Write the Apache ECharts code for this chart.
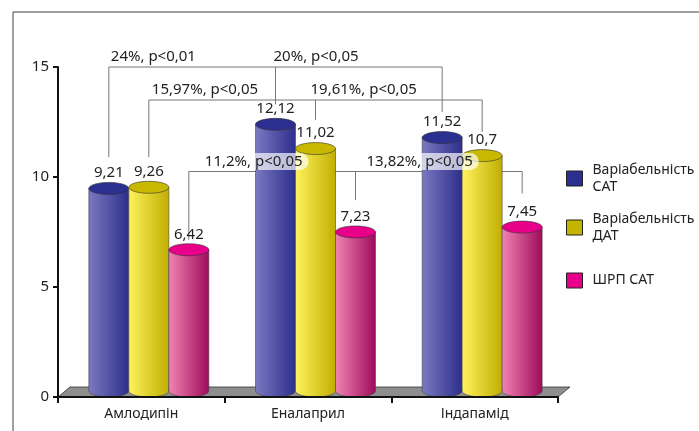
<!DOCTYPE html>
<html>
<head>
<meta charset="utf-8">
<script src="https://cdn.jsdelivr.net/npm/echarts@6/dist/echarts.min.js"></script>
<style>
  html, body { margin: 0; background: #fff; }
  #chart { width: 699px; height: 431px; }
</style>
</head>
<body>
<div id="chart"></div>
<script>
// --- data ---
const categories = ['Амлодипін', 'Еналаприл', 'Індапамід']
const seriesNames = ['Варіабельність\nСАТ', 'Варіабельність\nДАТ', 'ШРП САТ']
const sadVariability = [9.21, 12.12, 11.52]
const dadVariability = [9.26, 11.02, 10.7]
const shrpSad = [6.42, 7.23, 7.45]
const yTicks = [0, 5, 10, 15]

// significance brackets: level, drops [category, series, end value], texts
const bracketLevels = [15, 13.5, 10.25]
const bracketDrops = [
  [[0, 0, 10.9], [1, 0, 13.3], [2, 0, 12.95]],
  [[0, 1, 10.9], [1, 1, 12.6], [2, 1, 12.05]],
  [[0, 2, 7.15], [1, 2, 8.95], [2, 2, 9.25]]
]
const bracketTexts = [
  ['24%, p<0,01', '20%, p<0,05'],
  ['15,97%, p<0,05', '19,61%, p<0,05'],
  ['11,2%, p<0,05', '13,82%, p<0,05']
]

// --- look ---
const FONT = '"Noto Sans", sans-serif'
const BAR_RATIO = 0.24
const GROUP_SHIFT = 0.045
const RY = 6
const LABEL_DX = [[2, -2], [3, -5], [16, 11]]
const palette = [
  { light: '#7b79c2', dark: '#2c2e8a', top: '#2b2f8f', legend: '#2b2f8f' },
  { light: '#fff35e', dark: '#c1ae00', top: '#c8b800', legend: '#c3b400' },
  { light: '#f184b3', dark: '#9e0a5a', top: '#e8008a', legend: '#e8008a' }
]
const values = [sadVariability, dadVariability, shrpSad]

const fmt = v => String(v).replace('.', ',')

function barCenter (api, cat, s) {
  const band = api.size([1, 0])[0]
  const c = api.coord([cat, 0])[0]
  return c + (s - 1) * band * BAR_RATIO + band * GROUP_SHIFT
}

function halfEllipse (cx, y, rx, ry) {
  const k = 0.5523
  return `C${cx - rx} ${y + k * ry} ${cx - k * rx} ${y + ry} ${cx} ${y + ry}` +
    `C${cx + k * rx} ${y + ry} ${cx + rx} ${y + k * ry} ${cx + rx} ${y}`
}

function cylinder (s) {
  return function (params, api) {
    const cat = api.value(0)
    const v = api.value(1)
    const band = api.size([1, 0])[0]
    const rx = band * BAR_RATIO / 2
    const cx = barCenter(api, cat, s)
    const yTop = api.coord([cat, v])[1] - RY
    const yBase = api.coord([cat, 0])[1] - RY
    const c = palette[s]
    const side = {
      type: 'linear', x: 0, y: 0, x2: 1, y2: 0,
      colorStops: [{ offset: 0, color: c.light }, { offset: 1, color: c.dark }]
    }
    return {
      type: 'group',
      children: [
        {
          type: 'path',
          shape: {
            pathData: `M${cx - rx} ${yTop}L${cx - rx} ${yBase}` + halfEllipse(cx, yBase, rx, RY) + `L${cx + rx} ${yTop}Z`
          },
          style: { fill: side, stroke: '#444', lineWidth: 0.6 }
        },
        {
          type: 'ellipse',
          shape: { cx: cx, cy: yTop, rx: rx, ry: RY },
          style: { fill: c.top, stroke: '#333', lineWidth: 0.6 }
        },
        {
          type: 'text',
          x: cx,
          y: yTop - RY - 2,
          style: {
            text: fmt(v), fill: '#222', font: '15px ' + FONT,
            align: 'center', verticalAlign: 'bottom', textAlign: 'center', textVerticalAlign: 'bottom'
          }
        }
      ]
    }
  }
}

function floor (params, api) {
  const g = params.coordSys
  const b = g.y + g.height
  return {
    type: 'polygon',
    shape: { points: [[g.x, b], [g.x + 12, b - 10], [g.x + g.width + 12, b - 10], [g.x + g.width, b]] },
    style: { fill: '#8e8e8e', stroke: '#333', lineWidth: 0.8 }
  }
}

function bracketLines (params, api) {
  const i = api.value(0)
  const ly = api.coord([0, bracketLevels[i]])[1]
  const drops = bracketDrops[i]
  const xs = drops.map(d => barCenter(api, d[0], d[1]))
  const children = [{
    type: 'line',
    shape: { x1: xs[0], y1: ly, x2: xs[xs.length - 1], y2: ly },
    style: { stroke: '#777', lineWidth: 1 }
  }]
  drops.forEach((d, j) => {
    children.push({
      type: 'line',
      shape: { x1: xs[j], y1: ly, x2: xs[j], y2: api.coord([0, d[2]])[1] },
      style: { stroke: '#777', lineWidth: 1 }
    })
  })
  return { type: 'group', children: children }
}

function bracketLabels (params, api) {
  const i = api.value(0)
  const ly = api.coord([0, bracketLevels[i]])[1]
  const drops = bracketDrops[i]
  return {
    type: 'group',
    children: bracketTexts[i].map((t, j) => ({
      type: 'text',
      x: barCenter(api, drops[j][0], drops[j][1]) + LABEL_DX[i][j],
      y: ly - 10,
      style: {
        text: t, fill: '#222', font: '15px ' + FONT,
        align: 'left', verticalAlign: 'middle', textAlign: 'left', textVerticalAlign: 'middle',
        backgroundColor: i === 2 ? 'rgba(255,255,255,0.68)' : 'transparent',
        borderRadius: 10,
        padding: i === 2 ? [1, 6, 1, 0] : 0
      }
    }))
  }
}

const chart = echarts.init(document.getElementById('chart'))

const series = [
  {
    type: 'custom', z: 1, silent: true,
    data: [[0, 0]],
    renderItem: floor
  },
  {
    type: 'custom', z: 2, silent: true,
    data: bracketLevels.map((l, i) => [i, l]),
    renderItem: bracketLines
  }
]
values.forEach((vals, s) => {
  series.push({
    type: 'custom',
    name: seriesNames[s],
    z: 3,
    itemStyle: { color: palette[s].legend },
    data: vals.map((v, i) => [i, v]),
    encode: { x: 0, y: 1 },
    renderItem: cylinder(s)
  })
})
series.push({
  type: 'custom', z: 4, silent: true,
  data: bracketLevels.map((l, i) => [i, l]),
  renderItem: bracketLabels
})

const legendTops = [153, 202, 272]

chart.setOption({
  animation: false,
  textStyle: { fontFamily: FONT },
  grid: { left: 58, right: 141, top: 67, bottom: 34 },
  legend: seriesNames.map((n, i) => ({
    data: [n],
    left: 566,
    top: legendTops[i],
    padding: 0,
    icon: 'rect',
    itemWidth: 16,
    itemHeight: 15,
    selectedMode: false,
    itemStyle: { borderColor: '#222', borderWidth: 1 },
    textStyle: {
      fontFamily: FONT, fontSize: 14, color: '#222', lineHeight: 17,
      padding: i < 2 ? [17, 0, 0, 5] : [0, 0, 0, 5]
    }
  })),
  xAxis: {
    type: 'category',
    data: categories,
    z: 5,
    axisLine: { lineStyle: { color: '#111', width: 2 } },
    axisTick: { show: true, length: 6, lineStyle: { color: '#111', width: 2 } },
    axisLabel: { color: '#222', fontSize: 14, margin: 10, fontFamily: FONT }
  },
  yAxis: {
    type: 'value',
    min: yTicks[0],
    max: yTicks[yTicks.length - 1],
    interval: yTicks[1] - yTicks[0],
    z: 5,
    axisLine: { show: true, lineStyle: { color: '#111', width: 2 } },
    axisTick: { show: true, length: 5, lineStyle: { color: '#111', width: 2 } },
    splitLine: { show: false },
    axisLabel: { color: '#222', fontSize: 15, margin: 9, fontFamily: FONT }
  },
  graphic: [
    { type: 'line', shape: { x1: 13, y1: 12, x2: 699, y2: 12 }, style: { stroke: '#808080', lineWidth: 1.5 } },
    { type: 'line', shape: { x1: 13, y1: 12, x2: 13, y2: 431 }, style: { stroke: '#444', lineWidth: 1 } }
  ],
  series: series
})
</script>
</body>
</html>
